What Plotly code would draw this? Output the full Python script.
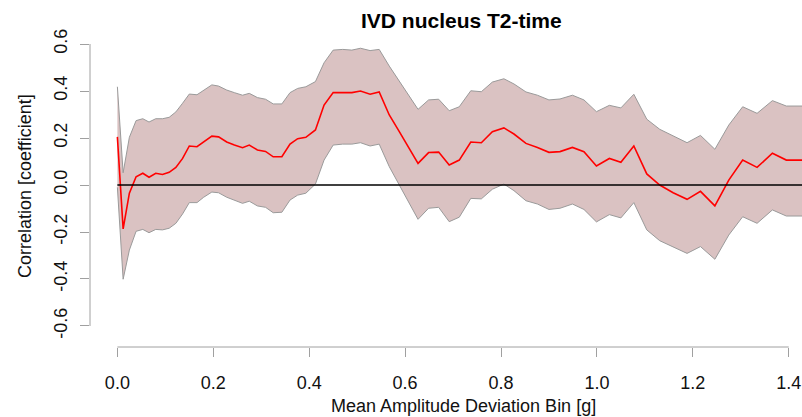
import plotly.graph_objects as go

# Bin centres (Mean Amplitude Deviation, g)
bin_x = [0.000, 0.012, 0.025, 0.039, 0.053, 0.066, 0.080, 0.094, 0.108, 0.122,
         0.136, 0.150, 0.166, 0.180, 0.197, 0.211, 0.228, 0.244, 0.261, 0.275,
         0.292, 0.309, 0.325, 0.343, 0.360, 0.376, 0.393, 0.413, 0.431, 0.450,
         0.470, 0.489, 0.507, 0.527, 0.546, 0.567, 0.587, 0.607, 0.627, 0.649,
         0.670, 0.692, 0.713, 0.737, 0.759, 0.782, 0.806, 0.827, 0.852, 0.876,
         0.900, 0.923, 0.949, 0.973, 0.999, 1.026, 1.050, 1.077, 1.104, 1.131,
         1.159, 1.188, 1.216, 1.246, 1.275, 1.304, 1.334, 1.366, 1.395, 1.430]

corr_mean = [0.205, -0.187, -0.035, 0.035, 0.050, 0.033, 0.050, 0.045, 0.054, 0.075,
             0.113, 0.166, 0.163, 0.183, 0.208, 0.205, 0.183, 0.170, 0.159, 0.170,
             0.149, 0.143, 0.120, 0.120, 0.174, 0.197, 0.203, 0.234, 0.340, 0.393,
             0.394, 0.393, 0.400, 0.386, 0.396, 0.298, 0.230, 0.160, 0.092, 0.138,
             0.140, 0.085, 0.106, 0.183, 0.180, 0.227, 0.243, 0.217, 0.177, 0.160,
             0.139, 0.142, 0.160, 0.142, 0.081, 0.113, 0.097, 0.166, 0.047, 0.000,
             -0.033, -0.061, -0.027, -0.089, 0.021, 0.106, 0.075, 0.135, 0.106, 0.106]

corr_upper = [0.418, 0.052, 0.203, 0.274, 0.282, 0.268, 0.282, 0.282, 0.288, 0.311,
              0.348, 0.387, 0.384, 0.404, 0.426, 0.421, 0.404, 0.393, 0.382, 0.390,
              0.372, 0.365, 0.345, 0.345, 0.393, 0.411, 0.418, 0.440, 0.520, 0.574,
              0.577, 0.574, 0.582, 0.572, 0.577, 0.506, 0.445, 0.385, 0.322, 0.362,
              0.365, 0.316, 0.333, 0.401, 0.397, 0.438, 0.452, 0.430, 0.396, 0.382,
              0.362, 0.366, 0.382, 0.362, 0.312, 0.339, 0.328, 0.386, 0.280, 0.237,
              0.209, 0.180, 0.211, 0.152, 0.255, 0.333, 0.305, 0.359, 0.336, 0.336]

corr_lower = [-0.010, -0.401, -0.277, -0.197, -0.189, -0.203, -0.189, -0.191, -0.184, -0.163,
              -0.123, -0.075, -0.075, -0.052, -0.030, -0.033, -0.052, -0.064, -0.078, -0.069,
              -0.089, -0.095, -0.118, -0.116, -0.064, -0.043, -0.035, 0.004, 0.106, 0.170,
              0.174, 0.174, 0.180, 0.166, 0.174, 0.078, 0.005, -0.070, -0.146, -0.099,
              -0.095, -0.156, -0.137, -0.057, -0.059, -0.018, 0.004, -0.024, -0.067, -0.081,
              -0.104, -0.099, -0.081, -0.104, -0.157, -0.126, -0.140, -0.075, -0.191, -0.237,
              -0.265, -0.291, -0.262, -0.316, -0.213, -0.135, -0.163, -0.106, -0.132, -0.132]

x_tick_vals = [0.0, 0.2, 0.4, 0.6, 0.8, 1.0, 1.2, 1.4]
x_tick_text = ["0.0", "0.2", "0.4", "0.6", "0.8", "1.0", "1.2", "1.4"]
y_tick_vals = [-0.6, -0.4, -0.2, 0.0, 0.2, 0.4, 0.6]
y_tick_text = ["-0.6", "-0.4", "-0.2", "0.0", "0.2", "0.4", "0.6"]

FONT = "Liberation Sans, Arial, Helvetica, sans-serif"
AXIS_GRAY = "#a0a0a0"

fig = go.Figure()

# Confidence band polygon
fig.add_trace(go.Scatter(
    x=bin_x + bin_x[::-1],
    y=corr_upper + corr_lower[::-1],
    fill="toself",
    fillcolor="rgba(188,143,143,0.55)",
    line=dict(color="#9a9a9a", width=1),
    mode="lines",
    hoverinfo="skip",
    showlegend=False,
))

# Mean correlation
fig.add_trace(go.Scatter(
    x=bin_x, y=corr_mean, mode="lines",
    line=dict(color="#ff0000", width=1.6),
    showlegend=False,
))

# Zero reference line over the data range
fig.add_trace(go.Scatter(
    x=[bin_x[0], bin_x[-1]], y=[0, 0], mode="lines",
    line=dict(color="#000000", width=1.5),
    showlegend=False, hoverinfo="skip",
))

fig.update_layout(
    width=802, height=417,
    margin=dict(l=90, r=0, t=30, b=70),
    plot_bgcolor="white", paper_bgcolor="white",
    font=dict(family=FONT, size=18, color="#111111"),
    xaxis=dict(
        range=[-0.0571, 1.4277],
        tickvals=x_tick_vals, ticktext=x_tick_text,
        showgrid=False, zeroline=False, showline=False,
        ticks="outside", ticklen=9, tickcolor=AXIS_GRAY, tickwidth=1,
        ticklabelstandoff=10,
        tickfont=dict(size=18, color="#111111"),
    ),
    yaxis=dict(
        range=[-0.6894, 0.6596],
        tickvals=y_tick_vals, ticktext=y_tick_text,
        showgrid=False, zeroline=False, showline=False,
        ticks="outside", ticklen=9, tickcolor=AXIS_GRAY, tickwidth=1,
        tickangle=-90, ticklabelstandoff=6,
        tickfont=dict(size=18, color="#111111"),
    ),
    shapes=[
        dict(type="line", xref="x", yref="paper", x0=0.0, x1=1.4, y0=0, y1=0,
             line=dict(color=AXIS_GRAY, width=1)),
        dict(type="line", xref="paper", yref="y", x0=0, x1=0, y0=-0.6, y1=0.6,
             line=dict(color=AXIS_GRAY, width=1)),
    ],
    annotations=[
        dict(text="<b>IVD nucleus T2-time</b>", xref="paper", yref="paper",
             x=(461 - 90) / 712, y=(347 - 21) / 317, xanchor="center", yanchor="middle",
             showarrow=False, font=dict(size=21, color="#000000", family=FONT)),
        dict(text="Mean Amplitude Deviation Bin [g]", xref="paper", yref="paper",
             x=(463 - 90) / 712, y=(347 - 406) / 317, xanchor="center", yanchor="middle",
             showarrow=False, font=dict(size=18, color="#111111", family=FONT)),
        dict(text="Correlation [coefficient]", xref="paper", yref="paper",
             x=(25 - 90) / 712, y=(347 - 186) / 317, xanchor="center", yanchor="middle",
             textangle=-90, showarrow=False, font=dict(size=18, color="#111111", family=FONT)),
    ],
)

fig.write_html(
    "out.html",
    config={"displayModeBar": False},
    post_script="document.body.style.margin='0';document.body.style.overflow='hidden';",
)
